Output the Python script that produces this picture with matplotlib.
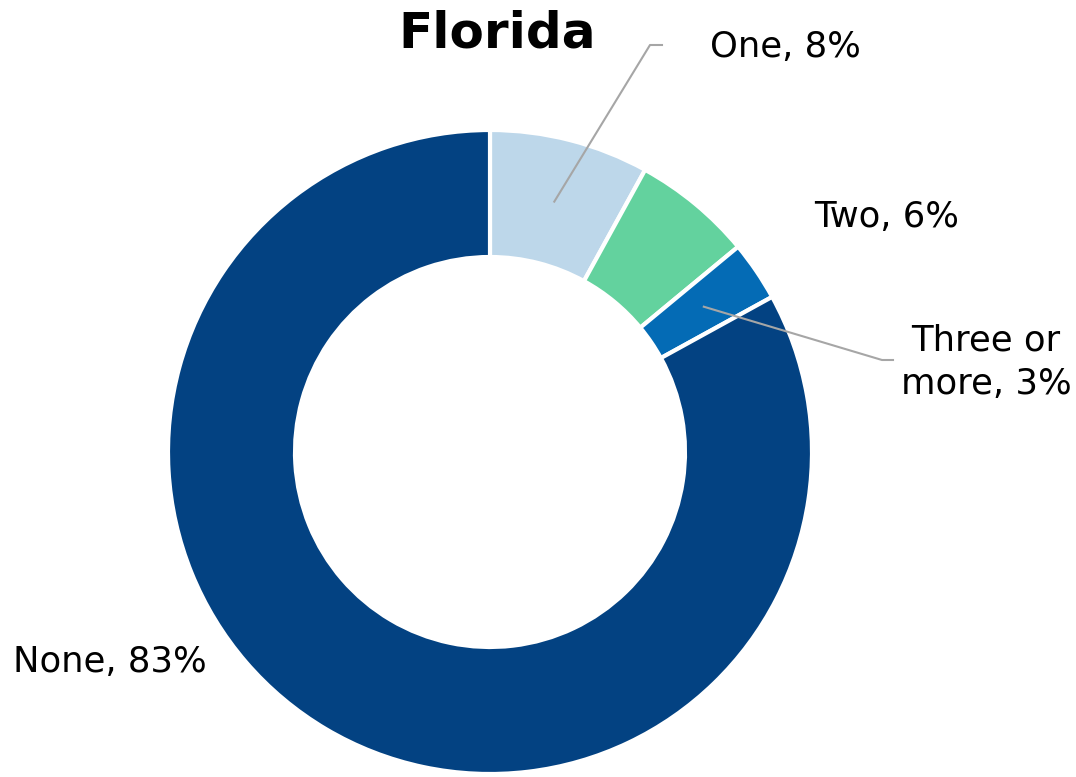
import numpy as np
import matplotlib
matplotlib.use('Agg')
import matplotlib.pyplot as plt

# Data
labels = ['One', 'Two', 'Three or\nmore', 'None']
values = [8, 6, 3, 83]
colors = ['#BDD7EA', '#63D29E', '#046BB5', '#034282']

W, H = 1076, 777
fig = plt.figure(figsize=(W / 100, H / 100), dpi=100)
ax = fig.add_axes([0, 0, 1, 1])

cx, cy = 490, H - 452
R, ring = 322, 127
wedges, _ = ax.pie(values, colors=colors, startangle=90, counterclock=False,
                   center=(cx, cy), radius=R, frame=True,
                   wedgeprops=dict(width=ring, edgecolor='white', linewidth=3))
ax.set_xlim(0, W)
ax.set_ylim(0, H)
ax.set_aspect('equal')
ax.axis('off')

font = 'DejaVu Sans'
ax.text(497, H - 34, 'Florida', ha='center', va='center', fontsize=36,
        fontweight='bold', family=font)

# mid angle of each wedge on the ring centre line
def ring_point(i):
    w = wedges[i]
    ang = np.deg2rad((w.theta1 + w.theta2) / 2)
    r = R - ring / 2
    return cx + r * np.cos(ang), cy + r * np.sin(ang)

grey = '#A6A6A6'
fs = 25.5
# One
x0, y0 = ring_point(0)
ax.plot([x0, 650, 662], [y0, H - 45, H - 45], color=grey, lw=1.5)
ax.text(785, H - 47, f'{labels[0]}, {values[0]}%', ha='center', va='center',
        fontsize=fs, family=font)
# Two
ax.text(887, H - 217, f'{labels[1]}, {values[1]}%', ha='center', va='center',
        fontsize=fs, family=font)
# Three or more
x0, y0 = ring_point(2)
ax.plot([x0, 882, 893], [y0, H - 360, H - 360], color=grey, lw=1.5)
ax.text(986, H - 362, f'{labels[2]}, {values[2]}%', ha='center', va='center',
        fontsize=fs, family=font, linespacing=1.35)
# None
ax.text(110, H - 662, f'{labels[3]}, {values[3]}%', ha='center', va='center',
        fontsize=fs, family=font)

fig.savefig('out.png', dpi=100)
